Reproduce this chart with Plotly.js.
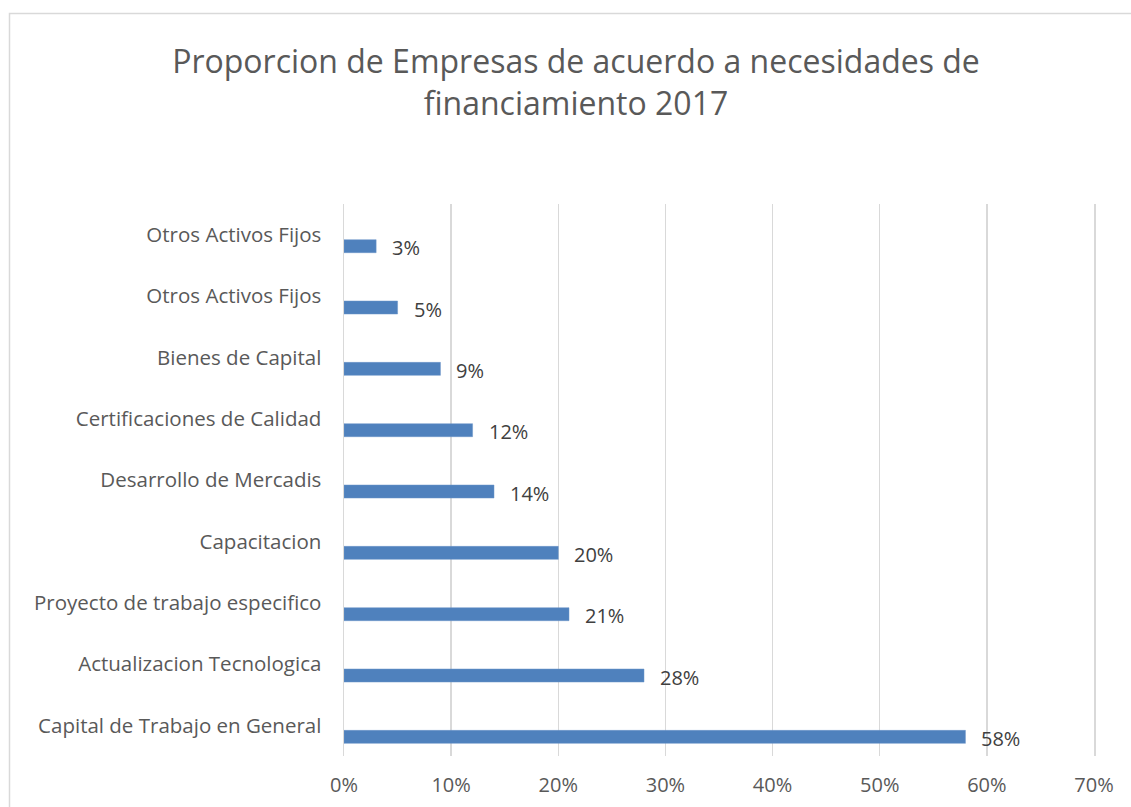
<!DOCTYPE html>
<html>
<head>
<meta charset="utf-8">
<script src="https://cdn.plot.ly/plotly-3.0.1.min.js"></script>
<style>
  html, body { margin: 0; padding: 0; background: #ffffff; }
  #chart { width: 1131px; height: 807px; }
</style>
</head>
<body>
<div id="chart"></div>
<script>
// Data (bottom to top, as drawn)
const categories = [
  "Capital de Trabajo en General",
  "Actualizacion Tecnologica",
  "Proyecto de trabajo especifico",
  "Capacitacion",
  "Desarrollo de Mercadis",
  "Certificaciones de Calidad",
  "Bienes de Capital",
  "Otros Activos Fijos",
  "Otros Activos Fijos"
];
const values = [0.58, 0.28, 0.21, 0.20, 0.14, 0.12, 0.09, 0.05, 0.03];
const xTickVals = [0, 0.1, 0.2, 0.3, 0.4, 0.5, 0.6, 0.7];
const xTickText = ["0%", "10%", "20%", "30%", "40%", "50%", "60%", "70%"];

const positions = categories.map((c, i) => i);

const W = 1131, H = 807;
const margin = { l: 344, r: 37, t: 204, b: 51 };
const pw = W - margin.l - margin.r;
const ph = H - margin.t - margin.b;
const px2paperX = px => (px - margin.l) / pw;
const py2paperY = py => (H - margin.b - py) / ph;

const textColor = "#595959";
const fontFam = "'Open Sans', 'Noto Sans', 'Liberation Sans', sans-serif";

const trace = {
  type: "bar",
  orientation: "h",
  x: values,
  y: positions,
  width: 0.212,
  offset: -0.294,
  marker: { color: "#4f81bd", line: { color: "#6a95c8", width: 0.5 } },
  hoverinfo: "x+y",
  showlegend: false
};

const annotations = values.map((v, i) => ({
  x: v,
  y: positions[i],
  xref: "x",
  yref: "y",
  text: Math.round(v * 100) + "%",
  showarrow: false,
  xanchor: "left",
  yanchor: "middle",
  xshift: 14,
  yshift: -13,
  font: { family: fontFam, size: 20, color: "#404040" }
}));

const layout = {
  width: W,
  height: H,
  margin: margin,
  paper_bgcolor: "#ffffff",
  plot_bgcolor: "#ffffff",
  title: {
    text: "Proporcion de Empresas de acuerdo a necesidades de<br>financiamiento 2017",
    font: { family: fontFam, size: 32, color: textColor },
    xref: "paper",
    x: px2paperX(576),
    xanchor: "center",
    yref: "container",
    y: 1 - 73 / H,
    yanchor: "middle"
  },
  xaxis: {
    range: [0, 0.7],
    tickvals: xTickVals,
    ticktext: xTickText,
    showgrid: true,
    gridcolor: "#d9d9d9",
    gridwidth: 1.5,
    zeroline: false,
    showline: false,
    ticks: "",
    ticklabelstandoff: 15,
    tickfont: { family: fontFam, size: 20, color: textColor },
    fixedrange: true
  },
  yaxis: {
    range: [-0.5, 8.5],
    tickmode: "array",
    tickvals: positions,
    ticktext: categories,
    showgrid: false,
    zeroline: false,
    showline: true,
    mirror: true,
    linecolor: "#d9d9d9",
    linewidth: 1.5,
    ticks: "",
    ticklabelstandoff: 17,
    tickfont: { family: fontFam, size: 20.5, color: textColor },
    fixedrange: true
  },
  annotations: annotations,
  shapes: [
    {
      type: "rect",
      xref: "paper",
      yref: "paper",
      x0: px2paperX(9.5),
      x1: px2paperX(1140),
      y0: py2paperY(820),
      y1: py2paperY(13.5),
      line: { color: "#d9d9d9", width: 1.5 },
      fillcolor: "rgba(0,0,0,0)",
      layer: "below"
    }
  ]
};

Plotly.newPlot("chart", [trace], layout, { displayModeBar: false, staticPlot: true });
</script>
</body>
</html>
